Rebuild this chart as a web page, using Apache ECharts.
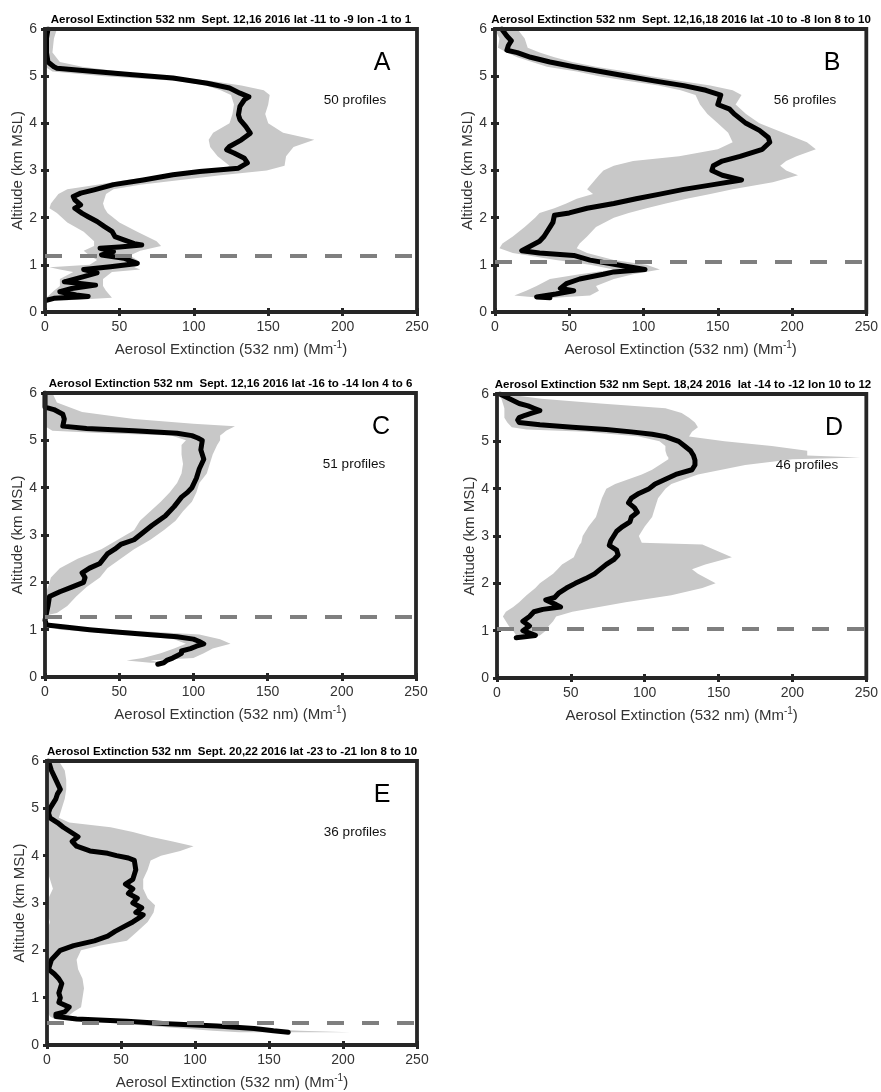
<!DOCTYPE html>
<html>
<head>
<meta charset="utf-8">
<script src="https://cdn.jsdelivr.net/npm/echarts@6/dist/echarts.min.js"></script>
<style>
html,body{margin:0;padding:0;background:#fff;}
#chart{width:881px;height:1092px;}
</style>
</head>
<body>
<div id="chart"></div>
<script>
// ---------- tick setup ----------
const X_MIN = 0, X_MAX = 250, X_STEP = 50;
const Y_MIN = 0, Y_MAX = 6, Y_STEP = 1;

// ---------- Panel A ----------
const A_title = 'Aerosol Extinction 532 nm  Sept. 12,16 2016 lat -11 to -9 lon -1 to 1';
const A_profiles = '50 profiles';
const A_cutoff = 1.2;
const A_meanAlt = [6.0,5.8,5.5,5.3,5.2,5.17,5.1,5.03,4.96,4.85,4.75,4.64,4.56,4.5,4.36,4.18,4.08,3.93,3.79,3.65,3.51,3.44,3.37,3.26,3.16,3.05,2.98,2.91,2.8,2.7,2.59,2.52,2.45,2.38,2.27,2.2,2.09,2.02,1.92,1.81,1.71,1.6,1.53,1.45,1.42,1.38,1.35,1.3,1.28,1.21,1.14,1.03,0.96,0.9,0.83,0.75,0.64,0.57,0.5,0.43,0.36,0.33,0.29,0.25];
const A_mean    = [2,1,1,2,6,8,33,59,86,109,124,131,137,134,131,130,131,135,138,132,124,122,127,134,136,130,104,86,66,46,33,24,19,20,24,20,25,29,35,40,45,47,53,60,65,50,37,44,46,38,53,62,44,26,35,26,13,34,18,10,21,29,6,1];
const A_bandAlt = [6.0,5.8,5.5,5.3,5.2,5.1,5.0,4.9,4.8,4.7,4.6,4.4,4.2,4.0,3.8,3.65,3.5,3.3,3.1,3.0,2.9,2.8,2.7,2.6,2.5,2.3,2.2,2.1,1.9,1.7,1.5,1.4,1.3,1.2,1.1,1.0,0.95,0.9,0.85,0.7,0.55,0.45,0.3,0.25];
const A_bandLo  = [0,0,0,0,0,5,40,90,108,118,125,127,126,124,113,110,111,116,124,118,80,55,35,15,9,4,3,8,15,26,33,33,26,30,35,30,3,10,19,10,10,6,1,0];
const A_bandHi  = [8,6,5,10,25,50,80,112,132,147,151,150,148,150,160,181,167,162,161,149,118,91,64,46,41,39,40,42,50,62,75,78,64,57,62,64,60,64,45,39,39,41,45,15];

// ---------- Panel B ----------
const B_title = 'Aerosol Extinction 532 nm  Sept. 12,16,18 2016 lat -10 to -8 lon 8 to 10';
const B_profiles = '56 profiles';
const B_cutoff = 1.06;
const B_meanAlt = [6.0,5.85,5.75,5.65,5.55,5.5,5.4,5.3,5.2,5.1,5.0,4.9,4.8,4.7,4.6,4.5,4.4,4.3,4.2,4.0,3.85,3.7,3.6,3.45,3.3,3.2,3.1,3.0,2.9,2.8,2.7,2.6,2.5,2.4,2.3,2.2,2.1,2.05,1.9,1.8,1.6,1.5,1.4,1.3,1.25,1.2,1.1,1.0,0.9,0.85,0.8,0.7,0.6,0.5,0.45,0.38,0.32,0.3];
const B_mean    = [4.5,8,11,9,8,15,24,37,53,71,89,107,127,142,152,151,150,158,161,169,178,184,185,180,165,153,147,146,153,166,147,127,111,95,80,62,50,40,39,37,33,30,24,18,30,53,64,82,101,80,73,57,48,44,53,41,28,37];
const B_bandAlt = [6.0,5.8,5.6,5.5,5.4,5.3,5.2,5.1,5.0,4.9,4.8,4.7,4.6,4.4,4.2,4.0,3.8,3.6,3.45,3.3,3.2,3.1,3.0,2.9,2.75,2.6,2.5,2.4,2.3,2.2,2.1,2.0,1.8,1.6,1.45,1.35,1.25,1.1,1.0,0.9,0.8,0.7,0.55,0.45,0.35,0.3];
const B_bandLo  = [0,3,2,8,15,25,35,55,70,90,110,125,135,138,143,150,157,160,150,124,93,80,73,70,66,62,66,55,48,40,30,27,20,12,5,3,12,41,64,80,57,37,28,21,13,30];
const B_bandHi  = [15,20,22,30,40,52,68,88,105,125,145,160,166,162,169,178,194,210,216,203,196,192,196,204,187,160,145,129,115,102,90,80,68,62,57,55,62,80,102,111,93,80,68,70,64,40];

// ---------- Panel C ----------
const C_title = 'Aerosol Extinction 532 nm  Sept. 12,16 2016 lat -16 to -14 lon 4 to 6';
const C_profiles = '51 profiles';
const C_cutoff = 1.27;
const C_meanAlt = [6.0,5.7,5.65,5.55,5.45,5.3,5.25,5.2,5.15,5.1,5.05,5.0,4.8,4.6,4.4,4.2,4.0,3.9,3.8,3.6,3.4,3.2,3.0,2.9,2.8,2.7,2.6,2.4,2.3,2.2,2.1,2.0,1.9,1.8,1.7,1.5,1.35,1.2,1.1,1.05,1.0,0.95,0.9,0.85,0.8,0.75,0.7,0.65,0.6,0.55,0.5,0.45,0.4,0.35,0.3,0.27];
const C_mean    = [0,0,6,12,13,12,28,60,89,99,103,106,105,107,104,102,99,96,92,87,81,72,64,60,51,47,42,37,30,25,27,26,18,10,3,2,1,0,1,15,30,48,69,89,100,104,107,102,98,92,92,89,86,82,80,76];
const C_bandAlt = [6.0,5.8,5.6,5.45,5.35,5.3,5.2,5.15,5.1,5.0,4.9,4.7,4.5,4.3,4.1,3.9,3.7,3.5,3.3,3.1,2.9,2.7,2.5,2.3,2.1,1.9,1.7,1.5,1.35,1.3,1.15,1.1,1.0,0.9,0.8,0.7,0.6,0.5,0.4,0.35,0.3];
const C_bandLo  = [0,0,0,0,0,0,5,40,85,95,92,92,93,92,89,84,78,71,64,60,49,38,22,10,4,2,0,0,0,0,0,0,10,55,87,95,87,78,66,55,71];
const C_bandHi  = [5,8,25,60,100,128,122,120,118,118,116,113,111,109,104,102,99,93,88,80,71,60,51,42,37,28,21,15,8,0,0,3,48,104,118,125,113,107,100,71,80];

// ---------- Panel D ----------
const D_title = 'Aerosol Extinction 532 nm Sept. 18,24 2016  lat -14 to -12 lon 10 to 12';
const D_profiles = '46 profiles';
const D_cutoff = 1.03;
const D_meanAlt = [6.0,5.9,5.8,5.75,5.7,5.65,5.6,5.55,5.5,5.45,5.4,5.35,5.3,5.25,5.2,5.15,5.1,5.0,4.9,4.8,4.7,4.6,4.5,4.4,4.3,4.2,4.1,4.0,3.9,3.8,3.7,3.6,3.5,3.4,3.3,3.2,3.1,3.0,2.9,2.8,2.7,2.6,2.5,2.4,2.3,2.2,2.1,2.0,1.9,1.8,1.7,1.65,1.55,1.5,1.45,1.4,1.3,1.2,1.1,1.0,0.95,0.9,0.85];
const D_mean    = [2,8.5,15,21,25,29,24,19,15,14,15,29,51,74,91,105,114,123,127,131,133,134,134,132,121,114,107,103,96,91,89,93,95,91,90,85,81,79,77,76,81,82,79,74,70,66,60,53,47,42,39,33,40,43,31,25,22,17.5,22,17.5,22,26,13];
const D_bandAlt = [6.0,5.9,5.8,5.7,5.6,5.5,5.4,5.3,5.25,5.2,5.1,5.0,4.9,4.8,4.7,4.66,4.62,4.5,4.4,4.3,4.2,4.1,4.0,3.8,3.6,3.4,3.2,3.0,2.86,2.82,2.7,2.55,2.4,2.3,2.2,2.0,1.9,1.75,1.6,1.5,1.4,1.3,1.2,1.1,1.0,0.9,0.85];
const D_bandLo  = [0,3,4,5,5,5,7,10,20,60,96,110,114,114,115,116,116,110,105,98,89,80,74,71,69,67,62,58,57,56,54,52,44,41,38,29,26,20,15,11,6,4,6,8,11,13,14];
const D_bandHi  = [5,30,70,114,125,130,134,136,134,132,130,154,186,210,210,246,200,168,152,136,127,118,114,109,107,105,100,96,98,139,148,159,141,132,136,148,139,118,87,69,51,40,38,35,33,29,20];

// ---------- Panel E ----------
const E_title = 'Aerosol Extinction 532 nm  Sept. 20,22 2016 lat -23 to -21 lon 8 to 10';
const E_profiles = '36 profiles';
const E_cutoff = 0.46;
const E_meanAlt = [6.0,5.8,5.6,5.4,5.3,5.2,5.0,4.9,4.8,4.7,4.6,4.5,4.4,4.3,4.2,4.1,4.05,4.0,3.95,3.9,3.7,3.5,3.4,3.3,3.2,3.1,3.0,2.9,2.8,2.75,2.7,2.6,2.5,2.4,2.3,2.2,2.1,2.0,1.9,1.8,1.7,1.6,1.5,1.4,1.3,1.2,1.1,1.0,0.9,0.8,0.7,0.65,0.6,0.55,0.5,0.45,0.4,0.35,0.3,0.27];
const E_mean    = [1,3,6,9,7,6,2,1,2,7,11,16,21,17,20,29,41,47,55,59,60,58,53,58,55,61,58,64,60,65,63,58,52,46,41,32,18,9,6,3,2,1,5,8,10,9,8,9,8,15,12,6,6,20,54,81,115,140,153,163];
const E_bandAlt = [6.0,5.8,5.6,5.4,5.2,5.0,4.8,4.7,4.6,4.5,4.4,4.3,4.2,4.1,4.0,3.9,3.7,3.5,3.3,3.1,2.95,2.8,2.6,2.4,2.2,2.1,2.0,1.8,1.6,1.4,1.2,1.0,0.8,0.7,0.6,0.55,0.5,0.4,0.3,0.27];
const E_bandLo  = [0,0,0,0,0,0,0,0,0,0,0,0,0,0,0,0,0,2,4,1,0,0,2,0,0,0,0,0,0,0,0,0,0,0,2,5,30,70,112,130];
const E_bandHi  = [8,12,13,13,12,10,8,15,43,58,70,85,99,90,77,70,68,65,65,68,73,72,68,61,54,36,23,20,21,24,25,24,23,18,14,25,58,104,171,205];

// ---------- build options ----------
const FONT = '"Liberation Sans", Arial, Helvetica, sans-serif';
const panels = [
  {t:A_title, p:A_profiles, L:'A', cut:A_cutoff, ma:A_meanAlt, m:A_mean, ba:A_bandAlt, lo:A_bandLo, hi:A_bandHi,
   g:{left:45,top:29,width:372,height:283}},
  {t:B_title, p:B_profiles, L:'B', cut:B_cutoff, ma:B_meanAlt, m:B_mean, ba:B_bandAlt, lo:B_bandLo, hi:B_bandHi,
   g:{left:495,top:29,width:372,height:283}},
  {t:C_title, p:C_profiles, L:'C', cut:C_cutoff, ma:C_meanAlt, m:C_mean, ba:C_bandAlt, lo:C_bandLo, hi:C_bandHi,
   g:{left:45,top:393,width:371,height:284}},
  {t:D_title, p:D_profiles, L:'D', cut:D_cutoff, ma:D_meanAlt, m:D_mean, ba:D_bandAlt, lo:D_bandLo, hi:D_bandHi,
   g:{left:497,top:394,width:372,height:284}},
  {t:E_title, p:E_profiles, L:'E', cut:E_cutoff, ma:E_meanAlt, m:E_mean, ba:E_bandAlt, lo:E_bandLo, hi:E_bandHi,
   g:{left:47,top:761,width:370,height:284}}
];

const grid = [], xAxis = [], yAxis = [], series = [], title = [], graphic = [];
const tickStyle = {inside:true, length:4, lineStyle:{color:'#262626', width:3}};

panels.forEach((P, i) => {
  grid.push(Object.assign({show:true, borderColor:'#262626', borderWidth:3.8, backgroundColor:'transparent', z:5}, P.g));
  const cx = P.g.left + P.g.width / 2;
  title.push({text:P.t, left:cx, top:P.g.top - 15, textAlign:'center', padding:0,
    textStyle:{fontSize:11.5, fontWeight:'bold', color:'#000', fontFamily:FONT}});
  xAxis.push({gridIndex:i, type:'value', min:X_MIN, max:X_MAX, interval:X_STEP, position:'bottom',
    axisLine:{show:false}, axisTick:tickStyle, splitLine:{show:false},
    axisLabel:{color:'#333', fontSize:14, fontFamily:FONT, margin:8},
    name:'{n|Aerosol Extinction (532 nm) (Mm}{s|-1}{n|)}', nameLocation:'middle', nameGap:28,
    nameTextStyle:{rich:{
      n:{fontSize:15, color:'#333', fontFamily:FONT, lineHeight:20},
      s:{fontSize:10, color:'#333', fontFamily:FONT, lineHeight:12, verticalAlign:'top'}}}});
  xAxis.push({gridIndex:i, type:'value', min:X_MIN, max:X_MAX, interval:X_STEP, position:'top',
    axisLine:{show:false}, axisTick:tickStyle, splitLine:{show:false}, axisLabel:{show:false}});
  yAxis.push({gridIndex:i, type:'value', min:Y_MIN, max:Y_MAX, interval:Y_STEP, position:'left',
    axisLine:{show:false}, axisTick:tickStyle, splitLine:{show:false},
    axisLabel:{color:'#333', fontSize:14, fontFamily:FONT, margin:8},
    name:'Altitude (km MSL)', nameLocation:'middle', nameGap:17,
    nameTextStyle:{fontSize:15, color:'#333', fontFamily:FONT}});
  yAxis.push({gridIndex:i, type:'value', min:Y_MIN, max:Y_MAX, interval:Y_STEP, position:'right',
    axisLine:{show:false}, axisTick:tickStyle, splitLine:{show:false}, axisLabel:{show:false}});

  const alt = P.ba, lo = P.lo, hi = P.hi;
  series.push({
    type:'custom', xAxisIndex:2*i, yAxisIndex:2*i, silent:true, z:1, clip:true,
    data: alt.map((a, k) => [lo[k], hi[k], a]),
    encode:{x:[0,1], y:2},
    renderItem: function (params, api) {
      if (params.dataIndex !== 0) return null;
      const pts = [];
      for (let k = 0; k < alt.length; k++) pts.push(api.coord([hi[k], alt[k]]));
      for (let k = alt.length - 1; k >= 0; k--) pts.push(api.coord([lo[k], alt[k]]));
      return {type:'polygon', shape:{points:pts}, style:{fill:'#c8c8c8', stroke:null}};
    }
  });
  series.push({
    type:'line', xAxisIndex:2*i, yAxisIndex:2*i, z:3, clip:true,
    data: P.ma.map((a, k) => [P.m[k], a]),
    symbol:'none', showSymbol:false, silent:true,
    lineStyle:{color:'#000', width:5, join:'round', cap:'round'},
    markLine:{silent:true, symbol:['none','none'], label:{show:false},
      lineStyle:{color:'#7f7f7f', width:4, type:[17,18]},
      emphasis:{disabled:true},
      data:[{yAxis:P.cut}]}
  });

  graphic.push({type:'text', x:P.g.left + P.g.width - 35, y:P.g.top + 34, z:10,
    style:{text:P.L, fontSize:25, fontFamily:FONT, fill:'#000', textAlign:'center', textVerticalAlign:'middle'}});
  graphic.push({type:'text', x:P.g.left + P.g.width - 62, y:P.g.top + 71, z:10,
    style:{text:P.p, fontSize:13.5, fontFamily:FONT, fill:'#111', textAlign:'center', textVerticalAlign:'middle'}});
});

const chart = echarts.init(document.getElementById('chart'), null, {renderer:'canvas'});
chart.setOption({animation:false, backgroundColor:'#fff', title, grid, xAxis, yAxis, series, graphic});
</script>
</body>
</html>
